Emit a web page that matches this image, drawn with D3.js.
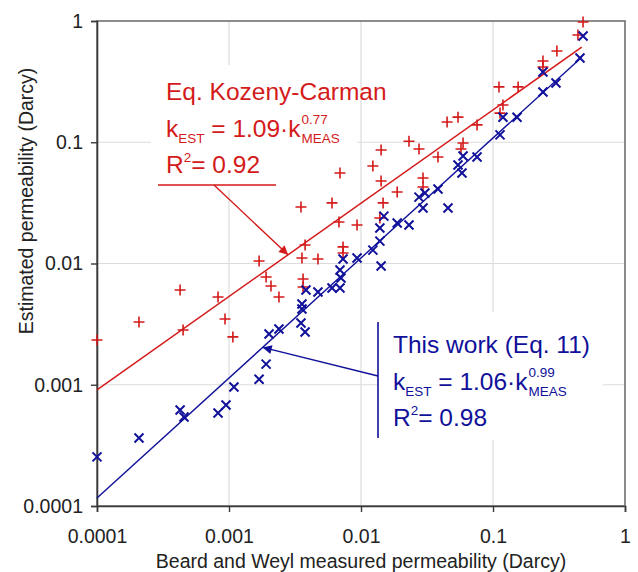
<!DOCTYPE html>
<html>
<head>
<meta charset="utf-8">
<script src="https://cdn.jsdelivr.net/npm/d3@7"></script>
<style>
  body { margin: 0; background: #fff; }
  svg { display: block; font-family: "Liberation Sans", Arial, sans-serif; }
</style>
</head>
<body>
<div id="chart"></div>
<script>
// Kozeny-Carman estimate vs measured (red +)
const redX = [0.0001, 0.000208, 0.000426, 0.000449, 0.000826, 0.000933, 0.00107, 0.00169, 0.00191, 0.00208,
  0.00239, 0.00357, 0.00364, 0.00364, 0.00472, 0.00377, 0.00351, 0.00603, 0.00693, 0.00681,
  0.00731, 0.00731, 0.00933, 0.0123, 0.0142, 0.0142, 0.0139, 0.0147, 0.0188, 0.0231,
  0.0275, 0.0295, 0.0295, 0.0383, 0.0449, 0.0543, 0.0593, 0.0572, 0.0757, 0.111,
  0.155, 0.119, 0.113, 0.239, 0.239, 0.305, 0.44, 0.481];
const redY = [0.00234, 0.00329, 0.00605, 0.00283, 0.00529, 0.00349, 0.00248, 0.0105, 0.00774, 0.00652,
  0.00529, 0.0111, 0.00745, 0.0064, 0.0109, 0.0142, 0.0292, 0.0316, 0.0557, 0.022,
  0.0137, 0.0122, 0.0208, 0.0637, 0.0863, 0.0479, 0.0237, 0.0316, 0.0389, 0.102,
  0.0879, 0.0507, 0.0428, 0.0756, 0.147, 0.161, 0.0986, 0.0879, 0.139, 0.286,
  0.286, 0.203, 0.174, 0.468, 0.418, 0.566, 0.767, 0.982];

// This work estimate vs measured (blue x)
const blueX = [0.0001, 0.000208, 0.000426, 0.000456, 0.000826, 0.000949, 0.00109, 0.00169, 0.00191, 0.00201,
  0.00239, 0.00351, 0.00377, 0.00357, 0.00357, 0.00383, 0.00472, 0.00603, 0.00693, 0.00693,
  0.00705, 0.00731, 0.00933, 0.0123, 0.0139, 0.0142, 0.0139, 0.0149, 0.0188, 0.0231,
  0.0275, 0.0305, 0.0383, 0.0295, 0.0456, 0.0543, 0.0582, 0.0593, 0.0757, 0.113,
  0.119, 0.152, 0.239, 0.300, 0.239, 0.456, 0.481];
const blueY = [0.000254, 0.000364, 0.000619, 0.000542, 0.000585, 0.000681, 0.000958, 0.00111, 0.00148, 0.00262,
  0.00288, 0.00323, 0.00272, 0.00463, 0.00421, 0.00605, 0.00582, 0.00628, 0.00628, 0.00884,
  0.00759, 0.0109, 0.0111, 0.0129, 0.0153, 0.00954, 0.0196, 0.0246, 0.0216, 0.0208,
  0.0353, 0.0381, 0.0411, 0.0287, 0.0287, 0.0649, 0.0557, 0.0771, 0.0756, 0.115,
  0.161, 0.161, 0.26, 0.308, 0.38, 0.495, 0.752];

// power-law fits k_EST = a * k_MEAS^b
const redFit = { a: 1.09, b: 0.77 };
const blueFit = { a: 1.06, b: 0.99 };
const fitRange = [0.0001, 0.47];
const arrowAtRed = 0.0028;
const arrowAtBlue = 0.0018;

const tickValues = [0.0001, 0.001, 0.01, 0.1, 1];
const tickLabels = ['0.0001', '0.001', '0.01', '0.1', '1'];

const red = '#d41a1a';
const blue = '#10109a';

const width = 638, height = 572;
const margin = { top: 21, right: 13, bottom: 66, left: 97 };

const svg = d3.select('#chart').append('svg')
  .attr('width', width)
  .attr('height', height);

const x = d3.scaleLog().domain([0.0001, 1]).range([margin.left, width - margin.right]);
const y = d3.scaleLog().domain([0.0001, 1]).range([height - margin.bottom, margin.top]);

const defs = svg.append('defs');
[['arrRed', red], ['arrBlue', blue]].forEach(([id, c]) => {
  defs.append('marker')
    .attr('id', id)
    .attr('viewBox', '0 0 10 10')
    .attr('refX', 10).attr('refY', 5)
    .attr('markerWidth', 11).attr('markerHeight', 9)
    .attr('markerUnits', 'userSpaceOnUse')
    .attr('orient', 'auto')
    .append('path')
    .attr('d', 'M0,0L10,5L0,10Z')
    .attr('fill', c);
});

// grid
svg.append('g').selectAll('line.gx')
  .data(tickValues.slice(1, -1))
  .enter().append('line')
  .attr('x1', d => x(d)).attr('x2', d => x(d))
  .attr('y1', y.range()[1]).attr('y2', y.range()[0])
  .attr('stroke', '#dcdcdc').attr('stroke-width', 1.2);
svg.append('g').selectAll('line.gy')
  .data(tickValues.slice(1, -1))
  .enter().append('line')
  .attr('y1', d => y(d)).attr('y2', d => y(d))
  .attr('x1', x.range()[0]).attr('x2', x.range()[1])
  .attr('stroke', '#dcdcdc').attr('stroke-width', 1.2);

// white label boxes sit over the grid
svg.append('rect').attr('x', 151).attr('y', 65).attr('width', 206).attr('height', 125).attr('fill', '#fff');
svg.append('rect').attr('x', 377).attr('y', 312).attr('width', 226).attr('height', 128).attr('fill', '#fff');

// frame
svg.append('rect')
  .attr('x', x.range()[0]).attr('y', y.range()[1])
  .attr('width', x.range()[1] - x.range()[0])
  .attr('height', y.range()[0] - y.range()[1])
  .attr('fill', 'none')
  .attr('stroke', '#707070')
  .attr('stroke-width', 1.6);

const fmt = d => tickLabels[tickValues.indexOf(d)];

const gx = svg.append('g')
  .attr('transform', `translate(0,${y.range()[0]})`)
  .call(d3.axisBottom(x).tickValues(tickValues).tickFormat(fmt).tickSize(6).tickPadding(17));
const gy = svg.append('g')
  .attr('transform', `translate(${x.range()[0]},0)`)
  .call(d3.axisLeft(y).tickValues(tickValues).tickFormat(fmt).tickSize(6).tickPadding(8));
[gx, gy].forEach(g => {
  g.select('.domain').attr('stroke', '#3a3a3a').attr('stroke-width', 1.6);
  g.selectAll('.tick line').attr('stroke', '#3a3a3a').attr('stroke-width', 1.4);
  g.selectAll('.tick text').attr('fill', '#222').style('font-size', '19.5px').style('font-family', '"Liberation Sans", Arial, sans-serif');
});

svg.append('text')
  .attr('x', (x.range()[0] + x.range()[1]) / 2)
  .attr('y', 568)
  .attr('text-anchor', 'middle')
  .attr('fill', '#222')
  .style('font-size', '19.5px')
  .text('Beard and Weyl measured permeability (Darcy)');

svg.append('text')
  .attr('transform', 'translate(33,201) rotate(-90)')
  .attr('text-anchor', 'middle')
  .attr('fill', '#222')
  .style('font-size', '19.5px')
  .text('Estimated permeability (Darcy)');

// fit lines
const fitLine = f => d3.line()
  .x(d => x(d))
  .y(d => y(f.a * Math.pow(d, f.b)));

svg.append('path').datum(fitRange)
  .attr('d', fitLine(redFit)).attr('stroke', red).attr('stroke-width', 1.5).attr('fill', 'none');
svg.append('path').datum(fitRange)
  .attr('d', fitLine(blueFit)).attr('stroke', blue).attr('stroke-width', 1.4).attr('fill', 'none');

// markers
const redPts = redX.map((d, i) => [d, redY[i]]);
const bluePts = blueX.map((d, i) => [d, blueY[i]]);
const p = 5.5, q = 4.5;

svg.append('g').selectAll('path')
  .data(redPts)
  .enter().append('path')
  .attr('d', d => `M${x(d[0]) - p},${y(d[1])}h${2 * p}M${x(d[0])},${y(d[1]) - p}v${2 * p}`)
  .attr('stroke', red).attr('stroke-width', 1.6).attr('fill', 'none');

svg.append('g').selectAll('path')
  .data(bluePts)
  .enter().append('path')
  .attr('d', d => `M${x(d[0]) - q},${y(d[1]) - q}l${2 * q},${2 * q}M${x(d[0]) - q},${y(d[1]) + q}l${2 * q},${-2 * q}`)
  .attr('stroke', blue).attr('stroke-width', 2).attr('fill', 'none');

// annotations
function label(x0, y0, color, title, coef, pw, r2) {
  const g = svg.append('g').attr('fill', color);
  g.append('text').attr('x', x0).attr('y', y0).style('font-size', '24.5px').text(title);

  const l2 = g.append('text').attr('x', x0).attr('y', y0 + 37).style('font-size', '24.5px');
  l2.append('tspan').text('k');
  l2.append('tspan').attr('dy', 6).style('font-size', '13.5px').text('EST');
  l2.append('tspan').attr('dy', -6).text(` = ${coef}\u00b7k`);
  const end = x0 + l2.node().getComputedTextLength() + 1;
  g.append('text').attr('x', end).attr('y', y0 + 24).style('font-size', '13.5px').text(pw);
  g.append('text').attr('x', end).attr('y', y0 + 43).style('font-size', '13.5px').text('MEAS');

  const l3 = g.append('text').attr('x', x0).attr('y', y0 + 73).style('font-size', '24.5px');
  l3.append('tspan').text('R');
  l3.append('tspan').attr('dy', -11).style('font-size', '13.5px').text('2');
  l3.append('tspan').attr('dy', 11).text(`= ${r2}`);
}

label(166, 100, red, 'Eq. Kozeny-Carman', '1.09', '0.77', '0.92');
label(393, 353, blue, 'This work (Eq. 11)', '1.06', '0.99', '0.98');

// red leader: underline + arrow to fit line
svg.append('line').attr('x1', 158).attr('x2', 276).attr('y1', 185).attr('y2', 185)
  .attr('stroke', red).attr('stroke-width', 1.5);
svg.append('line')
  .attr('x1', 214).attr('y1', 185)
  .attr('x2', x(arrowAtRed)).attr('y2', y(redFit.a * Math.pow(arrowAtRed, redFit.b)))
  .attr('stroke', red).attr('stroke-width', 1.4)
  .attr('marker-end', 'url(#arrRed)');

// blue leader: vertical bar + arrow to fit line
svg.append('line').attr('x1', 378).attr('x2', 378).attr('y1', 322).attr('y2', 438)
  .attr('stroke', blue).attr('stroke-width', 1.6);
svg.append('line')
  .attr('x1', 378).attr('y1', 376)
  .attr('x2', x(arrowAtBlue)).attr('y2', y(blueFit.a * Math.pow(arrowAtBlue, blueFit.b)))
  .attr('stroke', blue).attr('stroke-width', 1.4)
  .attr('marker-end', 'url(#arrBlue)');
</script>
</body>
</html>
